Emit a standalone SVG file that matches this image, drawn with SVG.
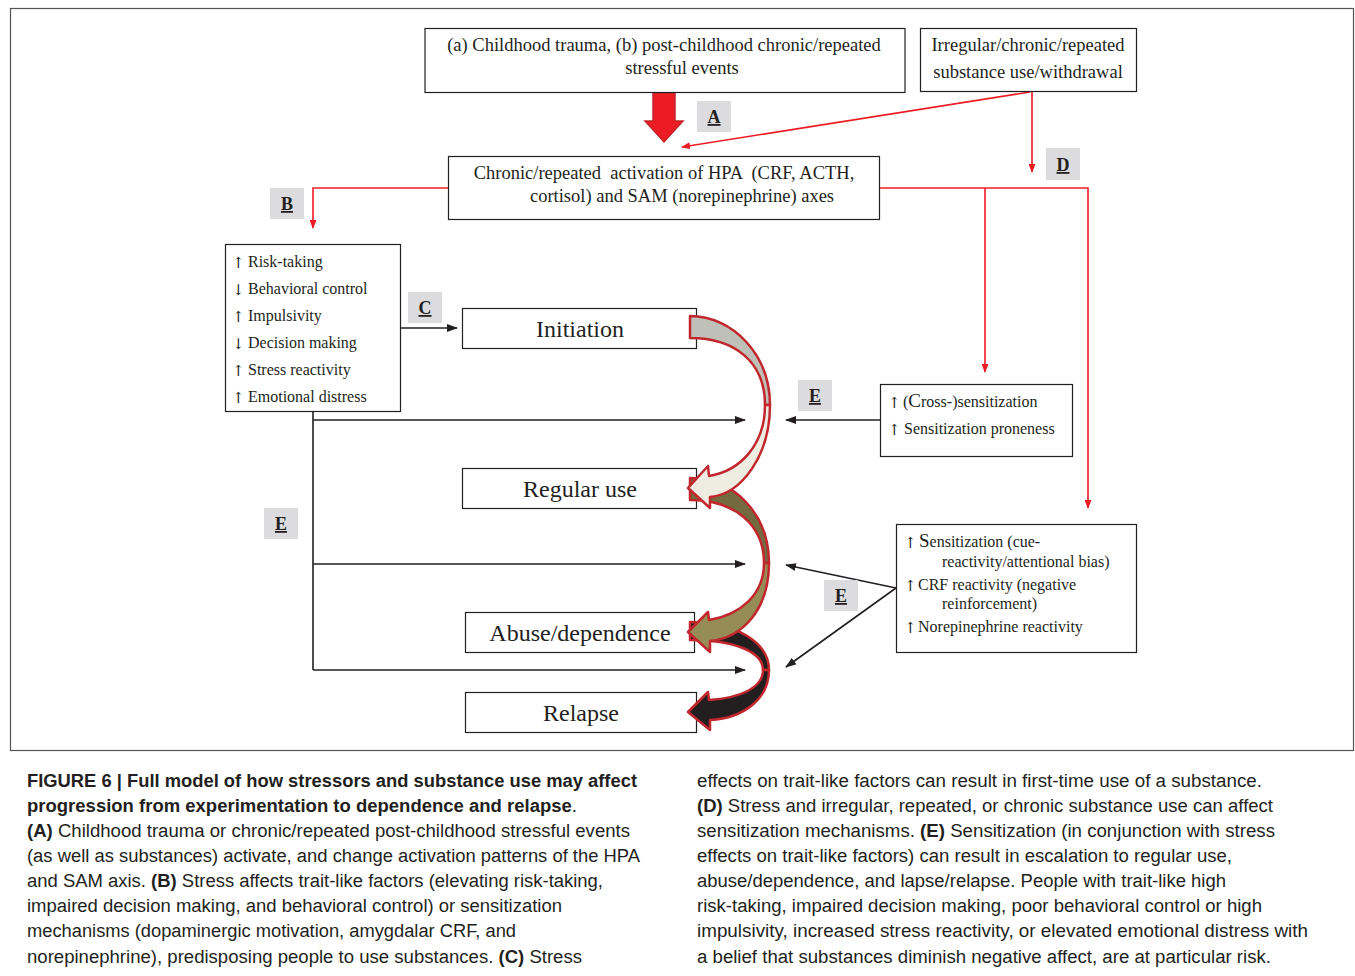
<svg xmlns="http://www.w3.org/2000/svg" width="1355" height="976" viewBox="0 0 1355 976">
<defs>
<style>
.box{fill:#fff;stroke:#231f20;stroke-width:1.2}
.t{font-family:"Liberation Serif",serif;fill:#231f20}
.t18{font-size:18.5px}
.t16{font-size:16px}
.t24{font-size:24px}
.arw{font-family:"DejaVu Serif",serif;font-size:15px}
.lbl{fill:#dcdcde;stroke:none}
.lt{font-family:"Liberation Serif",serif;font-weight:bold;font-size:18px;fill:#231f20;text-decoration:underline;text-anchor:middle}
.red{fill:none;stroke:#ed1c24;stroke-width:1.6}
.blk{fill:none;stroke:#231f20;stroke-width:1.6}
.cap{font-family:"Liberation Sans",Arial,sans-serif;font-size:18px;fill:#231f20}
.b{font-weight:bold}
.curve{stroke:#c1272d;stroke-width:2.5;stroke-linejoin:round}
</style>
<marker id="ar" markerUnits="userSpaceOnUse" markerWidth="9" markerHeight="7" refX="8" refY="3.5" orient="auto"><path d="M0,0 L9,3.5 L0,7 z" fill="#ed1c24"/></marker>
<marker id="ab" markerUnits="userSpaceOnUse" markerWidth="11" markerHeight="8" refX="10" refY="4" orient="auto"><path d="M0,0 L11,4 L0,8 z" fill="#231f20"/></marker>
</defs>
<rect width="1355" height="976" fill="#fff"/>
<rect x="10.5" y="8.5" width="1343" height="742" fill="none" stroke="#555" stroke-width="1.2"/>

<g id="connectors">
<path class="red" d="M1030,92 L682,147" marker-end="url(#ar)"/>
<path class="red" d="M1032,92 L1032,172" marker-end="url(#ar)"/>
<path class="red" d="M448,188 L313,188 L313,228" marker-end="url(#ar)"/>
<path class="red" d="M880,188 L1088,188 L1088,508" marker-end="url(#ar)"/>
<path class="red" d="M985,188 L985,372" marker-end="url(#ar)"/>
<path class="blk" d="M400,328 L457,328" marker-end="url(#ab)"/>
<path class="blk" d="M313,412 L313,670"/>
<path class="blk" d="M313,420 L745,420" marker-end="url(#ab)"/>
<path class="blk" d="M313,564 L745,564" marker-end="url(#ab)"/>
<path class="blk" d="M313,670 L745,670" marker-end="url(#ab)"/>
<path class="blk" d="M880,420 L786,420" marker-end="url(#ab)"/>
<path class="blk" d="M896,588 L786,565" marker-end="url(#ab)"/>
<path class="blk" d="M896,588 L786,667" marker-end="url(#ab)"/>
<path d="M653,93 L675,93 L675,121 L683,121 L664,142 L645,121 L653,121 Z" fill="#ed1c24" stroke="#c1272d" stroke-width="1.5"/>
</g>

<g id="labelA"><rect class="lbl" x="697" y="101" width="34" height="31"/><text class="lt" x="714" y="123">A</text></g>
<g id="labelB"><rect class="lbl" x="270" y="188" width="34" height="31"/><text class="lt" x="287" y="210">B</text></g>
<g id="labelC"><rect class="lbl" x="408" y="292" width="34" height="31"/><text class="lt" x="425" y="314">C</text></g>
<g id="labelD"><rect class="lbl" x="1046" y="148" width="34" height="32"/><text class="lt" x="1063" y="171">D</text></g>
<g id="labelE1"><rect class="lbl" x="798" y="380" width="34" height="31"/><text class="lt" x="815" y="402">E</text></g>
<g id="labelE2"><rect class="lbl" x="264" y="508" width="34" height="31"/><text class="lt" x="281" y="530">E</text></g>
<g id="labelE3"><rect class="lbl" x="824" y="580" width="34" height="31"/><text class="lt" x="841" y="602">E</text></g>

<g id="stressors"><rect class="box" x="425" y="28.5" width="480" height="64"/>
<text class="t t18" text-anchor="middle"><tspan x="664" y="51">(a) Childhood trauma, (b) post-childhood chronic/repeated</tspan><tspan x="682" y="74">stressful events</tspan></text></g>
<g id="substance"><rect class="box" x="920.5" y="28.5" width="216" height="63"/>
<text class="t t18" text-anchor="middle"><tspan x="1028" y="51">Irregular/chronic/repeated</tspan><tspan x="1028" y="78">substance use/withdrawal</tspan></text></g>
<g id="hpa"><rect class="box" x="448.5" y="156.5" width="431" height="63"/>
<text class="t t18" text-anchor="middle"><tspan x="664" y="179" xml:space="preserve">Chronic/repeated  activation of HPA  (CRF, ACTH,</tspan><tspan x="682" y="202">cortisol) and SAM (norepinephrine) axes</tspan></text></g>
<g id="traits"><rect class="box" x="225.5" y="244.5" width="175" height="167"/>
<text class="t t16"><tspan class="arw" x="232" y="268">↑</tspan><tspan x="248" y="267">Risk-taking</tspan><tspan class="arw" x="232" y="295">↓</tspan><tspan x="248" y="294">Behavioral control</tspan><tspan class="arw" x="232" y="322">↑</tspan><tspan x="248" y="321">Impulsivity</tspan><tspan class="arw" x="232" y="349">↓</tspan><tspan x="248" y="348">Decision making</tspan><tspan class="arw" x="232" y="376">↑</tspan><tspan x="248" y="375">Stress reactivity</tspan><tspan class="arw" x="232" y="403">↑</tspan><tspan x="248" y="402">Emotional distress</tspan></text></g>
<g id="initiation"><rect class="box" x="462.5" y="308.5" width="234" height="40"/><text class="t t24" x="580" y="337" text-anchor="middle">Initiation</text></g>
<g id="regular"><rect class="box" x="462.5" y="468.5" width="234" height="40"/><text class="t t24" x="580" y="497" text-anchor="middle">Regular use</text></g>
<g id="abuse"><rect class="box" x="465.5" y="612.5" width="229" height="40"/><text class="t t24" x="580" y="641" text-anchor="middle">Abuse/dependence</text></g>
<g id="relapse"><rect class="box" x="465.5" y="692.5" width="231" height="40"/><text class="t t24" x="581" y="721" text-anchor="middle">Relapse</text></g>
<g id="crosssens"><rect class="box" x="880.5" y="384.5" width="192" height="72"/>
<text class="t t16"><tspan class="arw" x="888" y="408">↑</tspan><tspan x="903" y="407">(<tspan font-size="19">C</tspan>ross-)sensitization</tspan><tspan class="arw" x="888" y="435">↑</tspan><tspan x="904" y="434">Sensitization proneness</tspan></text></g>
<g id="sensitization"><rect class="box" x="896.5" y="524.5" width="240" height="128"/>
<text class="t t16"><tspan class="arw" x="904" y="548">↑</tspan><tspan x="919" y="547"><tspan font-size="19">S</tspan>ensitization (cue-</tspan><tspan x="942" y="567">reactivity/attentional bias)</tspan><tspan class="arw" x="904" y="591">↑</tspan><tspan x="918" y="590">CRF reactivity (negative</tspan><tspan x="942" y="609">reinforcement)</tspan><tspan class="arw" x="904" y="633">↑</tspan><tspan x="918" y="632">Norepinephrine reactivity</tspan></text></g>

<g id="curved-arrows">
<path class="curve" fill="#231f20" d="M690,622 C735,622 769,642 769,670 L763,670 C763,652 735,640 690,640 Z"/>
<path class="curve" fill="#231f20" d="M769,670 C769,698 745,718 710,720 L710,730 L688,712 L708,692 L709,700 C740,698 763,688 763,670 Z"/>
<path class="curve" fill="#736b3f" d="M690,478 C735,478 769,515 769,563 L764,563 C764,525 735,500 690,500 Z"/>
<path class="curve" fill="#968c55" d="M769,563 C769,610 742,638 710,641 L710,652 L688,632 L708,612 L709,620 C740,615 764,595 764,563 Z"/>
<path class="curve" fill="#bfc0b7" d="M690,316 C733,316 770,355 770,405 L765,405 C765,362 735,338 690,338 Z"/>
<path class="curve" fill="#efede2" d="M770,405 C770,455 742,494 710,497 L710,508 L688,488 L708,466 L709,476 C740,471 765,445 765,405 Z"/>
</g>

<g id="caption">
<text class="cap b" x="27" y="787" textLength="610" lengthAdjust="spacingAndGlyphs">FIGURE 6 | Full model of how stressors and substance use may affect</text>
<text class="cap" x="27" y="812" textLength="550" lengthAdjust="spacingAndGlyphs"><tspan class="b">progression from experimentation to dependence and relapse</tspan>.</text>
<text class="cap" x="27" y="837" textLength="603" lengthAdjust="spacingAndGlyphs"><tspan class="b">(A)</tspan> Childhood trauma or chronic/repeated post-childhood stressful events</text>
<text class="cap" x="27" y="862" textLength="613" lengthAdjust="spacingAndGlyphs">(as well as substances) activate, and change activation patterns of the HPA</text>
<text class="cap" x="27" y="887" textLength="576" lengthAdjust="spacingAndGlyphs">and SAM axis. <tspan class="b">(B)</tspan> Stress affects trait-like factors (elevating risk-taking,</text>
<text class="cap" x="27" y="912" textLength="535" lengthAdjust="spacingAndGlyphs">impaired decision making, and behavioral control) or sensitization</text>
<text class="cap" x="27" y="937" textLength="489" lengthAdjust="spacingAndGlyphs">mechanisms (dopaminergic motivation, amygdalar CRF, and</text>
<text class="cap" x="27" y="963" textLength="555" lengthAdjust="spacingAndGlyphs">norepinephrine), predisposing people to use substances. <tspan class="b">(C)</tspan> Stress</text>
<text class="cap" x="697" y="787" textLength="565" lengthAdjust="spacingAndGlyphs">effects on trait-like factors can result in first-time use of a substance.</text>
<text class="cap" x="697" y="812" textLength="576" lengthAdjust="spacingAndGlyphs"><tspan class="b">(D)</tspan> Stress and irregular, repeated, or chronic substance use can affect</text>
<text class="cap" x="697" y="837" textLength="578" lengthAdjust="spacingAndGlyphs">sensitization mechanisms. <tspan class="b">(E)</tspan> Sensitization (in conjunction with stress</text>
<text class="cap" x="697" y="862" textLength="535" lengthAdjust="spacingAndGlyphs">effects on trait-like factors) can result in escalation to regular use,</text>
<text class="cap" x="697" y="887" textLength="529" lengthAdjust="spacingAndGlyphs">abuse/dependence, and lapse/relapse. People with trait-like high</text>
<text class="cap" x="697" y="912" textLength="565" lengthAdjust="spacingAndGlyphs">risk-taking, impaired decision making, poor behavioral control or high</text>
<text class="cap" x="697" y="937" textLength="611" lengthAdjust="spacingAndGlyphs">impulsivity, increased stress reactivity, or elevated emotional distress with</text>
<text class="cap" x="697" y="963" textLength="574" lengthAdjust="spacingAndGlyphs">a belief that substances diminish negative affect, are at particular risk.</text>
</g>
</svg>
